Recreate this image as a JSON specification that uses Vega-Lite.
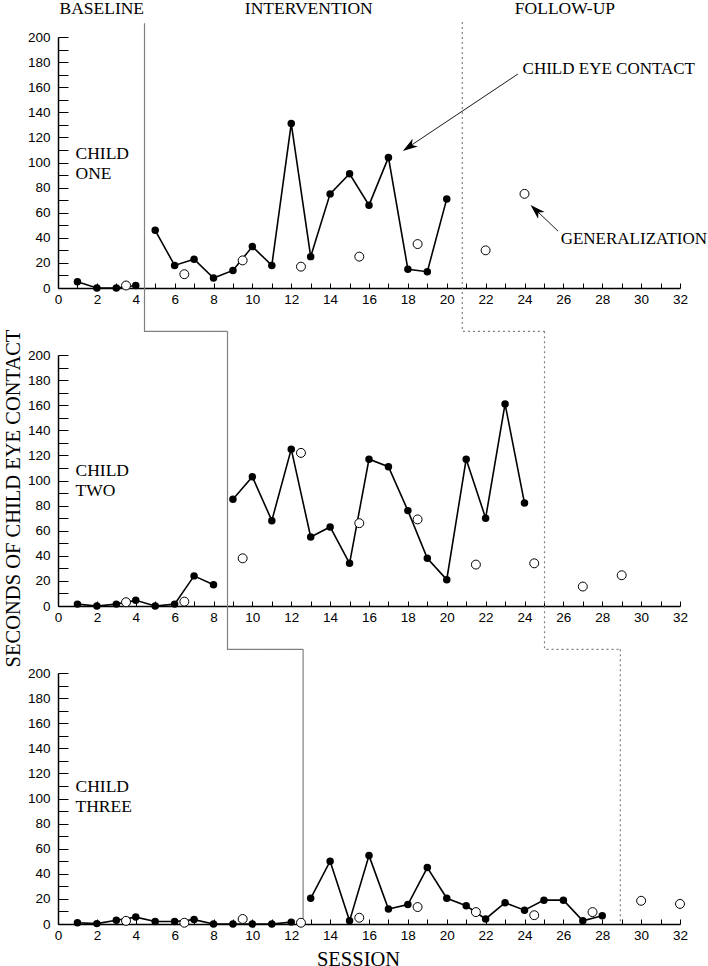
{
  "$schema": "https://vega.github.io/schema/vega-lite/v6.json",
  "background": "white",
  "padding": {"left": 3, "top": 0, "right": 0, "bottom": 0},
  "spacing": 67,
  "bounds": "flush",
  "datasets": {
    "obs": [
      {"c":1,"s":1,"v":5,"k":"f","p":"b"},{"c":1,"s":2,"v":0,"k":"f","p":"b"},{"c":1,"s":3,"v":0,"k":"f","p":"b"},{"c":1,"s":4,"v":2,"k":"f","p":"b"},
      {"c":1,"s":3.5,"v":2,"k":"o","p":"b"},
      {"c":1,"s":5,"v":46,"k":"f","p":"i"},{"c":1,"s":6,"v":18,"k":"f","p":"i"},{"c":1,"s":7,"v":23,"k":"f","p":"i"},{"c":1,"s":8,"v":8,"k":"f","p":"i"},
      {"c":1,"s":9,"v":14,"k":"f","p":"i"},{"c":1,"s":10,"v":33,"k":"f","p":"i"},{"c":1,"s":11,"v":18,"k":"f","p":"i"},{"c":1,"s":12,"v":131,"k":"f","p":"i"},
      {"c":1,"s":13,"v":25,"k":"f","p":"i"},{"c":1,"s":14,"v":75,"k":"f","p":"i"},{"c":1,"s":15,"v":91,"k":"f","p":"i"},{"c":1,"s":16,"v":66,"k":"f","p":"i"},
      {"c":1,"s":17,"v":104,"k":"f","p":"i"},{"c":1,"s":18,"v":15,"k":"f","p":"i"},{"c":1,"s":19,"v":13,"k":"f","p":"i"},{"c":1,"s":20,"v":71,"k":"f","p":"i"},
      {"c":1,"s":6.5,"v":11,"k":"o","p":"i"},{"c":1,"s":9.5,"v":22,"k":"o","p":"i"},{"c":1,"s":12.5,"v":17,"k":"o","p":"i"},{"c":1,"s":15.5,"v":25,"k":"o","p":"i"},{"c":1,"s":18.5,"v":35,"k":"o","p":"i"},
      {"c":1,"s":22,"v":30,"k":"o","p":"u"},{"c":1,"s":24,"v":75,"k":"o","p":"u"},

      {"c":2,"s":1,"v":1.5,"k":"f","p":"b"},{"c":2,"s":2,"v":0,"k":"f","p":"b"},{"c":2,"s":3,"v":1.5,"k":"f","p":"b"},{"c":2,"s":4,"v":4.5,"k":"f","p":"b"},
      {"c":2,"s":5,"v":0,"k":"f","p":"b"},{"c":2,"s":6,"v":1.5,"k":"f","p":"b"},{"c":2,"s":7,"v":24,"k":"f","p":"b"},{"c":2,"s":8,"v":17,"k":"f","p":"b"},
      {"c":2,"s":3.5,"v":3,"k":"o","p":"b"},{"c":2,"s":6.5,"v":3.5,"k":"o","p":"b"},
      {"c":2,"s":9,"v":85,"k":"f","p":"i"},{"c":2,"s":10,"v":103,"k":"f","p":"i"},{"c":2,"s":11,"v":68,"k":"f","p":"i"},{"c":2,"s":12,"v":125,"k":"f","p":"i"},
      {"c":2,"s":13,"v":55,"k":"f","p":"i"},{"c":2,"s":14,"v":63,"k":"f","p":"i"},{"c":2,"s":15,"v":34,"k":"f","p":"i"},{"c":2,"s":16,"v":117,"k":"f","p":"i"},
      {"c":2,"s":17,"v":111,"k":"f","p":"i"},{"c":2,"s":18,"v":76,"k":"f","p":"i"},{"c":2,"s":19,"v":38,"k":"f","p":"i"},{"c":2,"s":20,"v":21,"k":"f","p":"i"},
      {"c":2,"s":21,"v":117,"k":"f","p":"i"},{"c":2,"s":22,"v":70,"k":"f","p":"i"},{"c":2,"s":23,"v":161,"k":"f","p":"i"},{"c":2,"s":24,"v":82,"k":"f","p":"i"},
      {"c":2,"s":9.5,"v":38,"k":"o","p":"i"},{"c":2,"s":12.5,"v":122,"k":"o","p":"i"},{"c":2,"s":15.5,"v":66,"k":"o","p":"i"},{"c":2,"s":18.5,"v":69,"k":"o","p":"i"},
      {"c":2,"s":21.5,"v":33,"k":"o","p":"i"},{"c":2,"s":24.5,"v":34,"k":"o","p":"i"},
      {"c":2,"s":27,"v":15.5,"k":"o","p":"u"},{"c":2,"s":29,"v":24.5,"k":"o","p":"u"},

      {"c":3,"s":1,"v":1,"k":"f","p":"b"},{"c":3,"s":2,"v":0.3,"k":"f","p":"b"},{"c":3,"s":3,"v":3,"k":"f","p":"b"},{"c":3,"s":4,"v":5.5,"k":"f","p":"b"},
      {"c":3,"s":5,"v":2,"k":"f","p":"b"},{"c":3,"s":6,"v":2,"k":"f","p":"b"},{"c":3,"s":7,"v":3.5,"k":"f","p":"b"},{"c":3,"s":8,"v":0,"k":"f","p":"b"},
      {"c":3,"s":9,"v":0,"k":"f","p":"b"},{"c":3,"s":10,"v":0,"k":"f","p":"b"},{"c":3,"s":11,"v":0,"k":"f","p":"b"},{"c":3,"s":12,"v":1.5,"k":"f","p":"b"},
      {"c":3,"s":3.5,"v":2.5,"k":"o","p":"b"},{"c":3,"s":6.5,"v":1,"k":"o","p":"b"},{"c":3,"s":9.5,"v":4,"k":"o","p":"b"},{"c":3,"s":12.5,"v":1,"k":"o","p":"b"},
      {"c":3,"s":13,"v":20.5,"k":"f","p":"i"},{"c":3,"s":14,"v":50,"k":"f","p":"i"},{"c":3,"s":15,"v":2.5,"k":"f","p":"i"},{"c":3,"s":16,"v":54.5,"k":"f","p":"i"},
      {"c":3,"s":17,"v":12,"k":"f","p":"i"},{"c":3,"s":18,"v":15.5,"k":"f","p":"i"},{"c":3,"s":19,"v":45,"k":"f","p":"i"},{"c":3,"s":20,"v":20.5,"k":"f","p":"i"},
      {"c":3,"s":21,"v":14.5,"k":"f","p":"i"},{"c":3,"s":22,"v":4,"k":"f","p":"i"},{"c":3,"s":23,"v":17,"k":"f","p":"i"},{"c":3,"s":24,"v":11,"k":"f","p":"i"},
      {"c":3,"s":25,"v":19,"k":"f","p":"i"},{"c":3,"s":26,"v":19,"k":"f","p":"i"},{"c":3,"s":27,"v":2.5,"k":"f","p":"i"},{"c":3,"s":28,"v":6.5,"k":"f","p":"i"},
      {"c":3,"s":15.5,"v":5,"k":"o","p":"i"},{"c":3,"s":18.5,"v":13.5,"k":"o","p":"i"},{"c":3,"s":21.5,"v":9.5,"k":"o","p":"i"},{"c":3,"s":24.5,"v":7,"k":"o","p":"i"},{"c":3,"s":27.5,"v":9.5,"k":"o","p":"i"},
      {"c":3,"s":30,"v":18.5,"k":"o","p":"u"},{"c":3,"s":32,"v":16,"k":"o","p":"u"}
    ],
    "phase": [
      {"c":1,"t":"solid","o":1,"s":4.45,"v":211},{"c":1,"t":"solid","o":2,"s":4.45,"v":-34.5},{"c":1,"t":"solid","o":3,"s":8.72,"v":-34.5},
      {"c":1,"t":"dotted","o":1,"s":20.8,"v":212},{"c":1,"t":"dotted","o":2,"s":20.8,"v":-34.5},{"c":1,"t":"dotted","o":3,"s":25.03,"v":-34.5},
      {"c":2,"t":"solid","o":1,"s":8.72,"v":218.9},{"c":2,"t":"solid","o":2,"s":8.72,"v":-34.5},{"c":2,"t":"solid","o":3,"s":12.61,"v":-34.5},
      {"c":2,"t":"dotted","o":1,"s":25.03,"v":218.9},{"c":2,"t":"dotted","o":2,"s":25.03,"v":-34.5},{"c":2,"t":"dotted","o":3,"s":28.93,"v":-34.5},
      {"c":3,"t":"solid","o":1,"s":12.61,"v":218.9},{"c":3,"t":"solid","o":2,"s":12.61,"v":0},
      {"c":3,"t":"dotted","o":1,"s":28.93,"v":218.9},{"c":3,"t":"dotted","o":2,"s":28.93,"v":0}
    ],
    "notes": [
      {"c":1,"s":0.9,"v":99,"line1":"CHILD","line2":"ONE"},
      {"c":2,"s":0.9,"v":100,"line1":"CHILD","line2":"TWO"},
      {"c":3,"s":0.9,"v":101.5,"line1":"CHILD","line2":"THREE"}
    ]
  },
  "vconcat": [
    {
      "width": 622, "height": 251,
      "encoding": {
        "x": {"field":"s","type":"quantitative","scale":{"domain":[0,32],"nice":false},
              "axis":{"title":null,"values":[0,1,2,3,4,5,6,7,8,9,10,11,12,13,14,15,16,17,18,19,20,21,22,23,24,25,26,27,28,29,30,31,32]}},
        "y": {"field":"v","type":"quantitative","scale":{"domain":[0,200],"nice":false},
              "axis":{"title":null,"values":[0,10,20,30,40,50,60,70,80,90,100,110,120,130,140,150,160,170,180,190,200]}}
      },
      "layer": [
        {"data":{"name":"phase"},"transform":[{"filter":"datum.c==1"}],
         "mark":{"type":"line","color":"#808080","strokeWidth":1.2},
         "encoding":{"order":{"field":"o"},"detail":{"field":"t"},
           "strokeDash":{"field":"t","type":"nominal","scale":{"domain":["solid","dotted"],"range":[[1,0],[2,3]]},"legend":null}}},
        {"data":{"values":[{"a":1,"o":1,"s":23.66,"v":170.5},{"a":1,"o":2,"s":18.1,"v":113},{"a":2,"o":1,"s":25.72,"v":45.4},{"a":2,"o":2,"s":24.6,"v":62}]},
         "mark":{"type":"line","color":"black","strokeWidth":0.9},
         "encoding":{"order":{"field":"o"},"detail":{"field":"a"}}},
        {"data":{"values":[{"s":17.74,"v":109.2,"head":"a"}]},
         "mark":{"type":"point","shape":"M0,0 L0.7,2.2 L0,1.6 L-0.7,2.2 Z","filled":true,"color":"black","opacity":1,"size":185,"angle":236.2}},
        {"data":{"values":[{"s":24.31,"v":66.1,"head":"b"}]},
         "mark":{"type":"point","shape":"M0,0 L0.7,2.2 L0,1.6 L-0.7,2.2 Z","filled":true,"color":"black","opacity":1,"size":185,"angle":313.6}},
        {"data":{"name":"obs"},"transform":[{"filter":"datum.c==1 && datum.k=='f'"}],
         "mark":{"type":"line","color":"black","strokeWidth":1.6},
         "encoding":{"detail":{"field":"p"}}},
        {"data":{"name":"obs"},"transform":[{"filter":"datum.c==1 && datum.k=='f'"}],
         "mark":{"type":"point","shape":"circle","filled":true,"color":"black","opacity":1,"size":56}},
        {"data":{"name":"obs"},"transform":[{"filter":"datum.c==1 && datum.k=='o'"}],
         "mark":{"type":"point","shape":"circle","filled":true,"fill":"white","stroke":"black","strokeWidth":1,"opacity":1,"size":80}},
        {"data":{"values":[{"s":2.25,"v":222,"label":"BASELINE"},{"s":12.9,"v":222,"label":"INTERVENTION"},{"s":26.08,"v":222,"label":"FOLLOW-UP"}]},
         "mark":{"type":"text","font":"Liberation Serif","fontSize":17.5,"color":"black","align":"center","baseline":"middle"},
         "encoding":{"text":{"field":"label"}}},
        {"data":{"values":[{"s":23.9,"v":174.5,"label":"CHILD EYE CONTACT"},{"s":25.86,"v":39,"label":"GENERALIZATION"}]},
         "mark":{"type":"text","font":"Liberation Serif","fontSize":17,"color":"black","align":"left","baseline":"middle"},
         "encoding":{"text":{"field":"label"}}},
        {"data":{"name":"notes"},"transform":[{"filter":"datum.c==1"}],
         "mark":{"type":"text","font":"Liberation Serif","fontSize":17.5,"color":"black","align":"left","baseline":"bottom","dy":-0.5},
         "encoding":{"text":{"field":"line1"}}},
        {"data":{"name":"notes"},"transform":[{"filter":"datum.c==1"}],
         "mark":{"type":"text","font":"Liberation Serif","fontSize":17.5,"color":"black","align":"left","baseline":"top","dy":1.5},
         "encoding":{"text":{"field":"line2"}}}
      ]
    },
    {
      "width": 622, "height": 251,
      "encoding": {
        "x": {"field":"s","type":"quantitative","scale":{"domain":[0,32],"nice":false},
              "axis":{"title":null,"values":[0,1,2,3,4,5,6,7,8,9,10,11,12,13,14,15,16,17,18,19,20,21,22,23,24,25,26,27,28,29,30,31,32]}},
        "y": {"field":"v","type":"quantitative","scale":{"domain":[0,200],"nice":false},
              "axis":{"title":"SECONDS OF CHILD EYE CONTACT","titleY":143,"values":[0,10,20,30,40,50,60,70,80,90,100,110,120,130,140,150,160,170,180,190,200]}}
      },
      "layer": [
        {"data":{"name":"phase"},"transform":[{"filter":"datum.c==2"}],
         "mark":{"type":"line","color":"#808080","strokeWidth":1.2},
         "encoding":{"order":{"field":"o"},"detail":{"field":"t"},
           "strokeDash":{"field":"t","type":"nominal","scale":{"domain":["solid","dotted"],"range":[[1,0],[2,3]]},"legend":null}}},
        {"data":{"name":"obs"},"transform":[{"filter":"datum.c==2 && datum.k=='f'"}],
         "mark":{"type":"line","color":"black","strokeWidth":1.6},
         "encoding":{"detail":{"field":"p"}}},
        {"data":{"name":"obs"},"transform":[{"filter":"datum.c==2 && datum.k=='f'"}],
         "mark":{"type":"point","shape":"circle","filled":true,"color":"black","opacity":1,"size":56}},
        {"data":{"name":"obs"},"transform":[{"filter":"datum.c==2 && datum.k=='o'"}],
         "mark":{"type":"point","shape":"circle","filled":true,"fill":"white","stroke":"black","strokeWidth":1,"opacity":1,"size":80}},
        {"data":{"name":"notes"},"transform":[{"filter":"datum.c==2"}],
         "mark":{"type":"text","font":"Liberation Serif","fontSize":17.5,"color":"black","align":"left","baseline":"bottom","dy":-0.5},
         "encoding":{"text":{"field":"line1"}}},
        {"data":{"name":"notes"},"transform":[{"filter":"datum.c==2"}],
         "mark":{"type":"text","font":"Liberation Serif","fontSize":17.5,"color":"black","align":"left","baseline":"top","dy":1.5},
         "encoding":{"text":{"field":"line2"}}}
      ]
    },
    {
      "width": 622, "height": 251,
      "encoding": {
        "x": {"field":"s","type":"quantitative","scale":{"domain":[0,32],"nice":false},
              "axis":{"title":"SESSION","titleX":300,"values":[0,1,2,3,4,5,6,7,8,9,10,11,12,13,14,15,16,17,18,19,20,21,22,23,24,25,26,27,28,29,30,31,32]}},
        "y": {"field":"v","type":"quantitative","scale":{"domain":[0,200],"nice":false},
              "axis":{"title":null,"values":[0,10,20,30,40,50,60,70,80,90,100,110,120,130,140,150,160,170,180,190,200]}}
      },
      "layer": [
        {"data":{"name":"phase"},"transform":[{"filter":"datum.c==3"}],
         "mark":{"type":"line","color":"#808080","strokeWidth":1.2},
         "encoding":{"order":{"field":"o"},"detail":{"field":"t"},
           "strokeDash":{"field":"t","type":"nominal","scale":{"domain":["solid","dotted"],"range":[[1,0],[2,3]]},"legend":null}}},
        {"data":{"name":"obs"},"transform":[{"filter":"datum.c==3 && datum.k=='f'"}],
         "mark":{"type":"line","color":"black","strokeWidth":1.6},
         "encoding":{"detail":{"field":"p"}}},
        {"data":{"name":"obs"},"transform":[{"filter":"datum.c==3 && datum.k=='f'"}],
         "mark":{"type":"point","shape":"circle","filled":true,"color":"black","opacity":1,"size":56}},
        {"data":{"name":"obs"},"transform":[{"filter":"datum.c==3 && datum.k=='o'"}],
         "mark":{"type":"point","shape":"circle","filled":true,"fill":"white","stroke":"black","strokeWidth":1,"opacity":1,"size":80}},
        {"data":{"name":"notes"},"transform":[{"filter":"datum.c==3"}],
         "mark":{"type":"text","font":"Liberation Serif","fontSize":17.5,"color":"black","align":"left","baseline":"bottom","dy":-0.5},
         "encoding":{"text":{"field":"line1"}}},
        {"data":{"name":"notes"},"transform":[{"filter":"datum.c==3"}],
         "mark":{"type":"text","font":"Liberation Serif","fontSize":17.5,"color":"black","align":"left","baseline":"top","dy":1.5},
         "encoding":{"text":{"field":"line2"}}}
      ]
    }
  ],
  "config": {
    "view": {"stroke": null},
    "axis": {"grid": false, "domainColor": "black", "domainWidth": 1.5, "tickColor": "black", "tickWidth": 1,
             "labelColor": "black", "labelFont": "Liberation Sans", "labelFontSize": 13.5, "labelOverlap": false, "labelFlush": false,
             "titleFont": "Liberation Serif", "titleFontWeight": "normal", "titleColor": "black", "titleFontSize": 20.5},
    "axisX": {"tickSize": -5, "labelPadding": 9, "labelExpr": "datum.value % 2 === 0 ? datum.label : ''", "titlePadding": 8},
    "axisY": {"tickSize": -10, "labelPadding": 18, "labelExpr": "datum.value % 20 === 0 ? datum.label : ''", "titlePadding": 4}
  }
}
